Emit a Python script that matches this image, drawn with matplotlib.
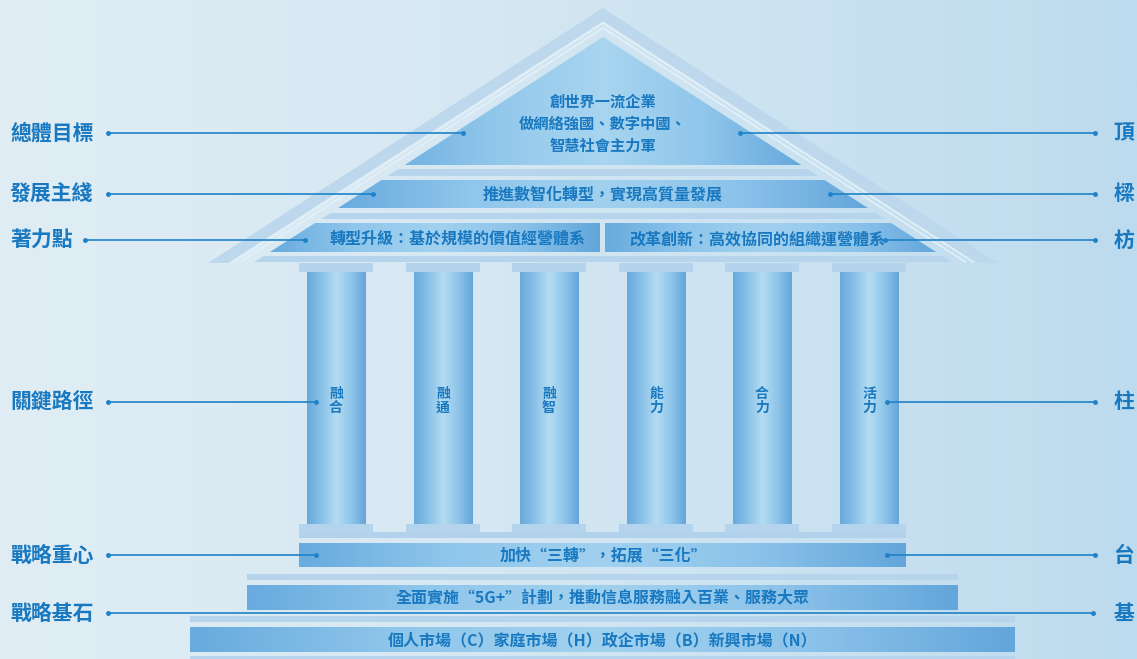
import numpy as np
import matplotlib.pyplot as plt
from matplotlib.colors import LinearSegmentedColormap
from matplotlib.patches import Polygon

plt.rcParams['font.family'] = ['Noto Sans CJK TC', 'DejaVu Sans']

# ---- content ----
left_labels = ['總體目標', '發展主綫', '著力點', '關鍵路徑', '戰略重心', '戰略基石']
right_labels = ['頂', '樑', '枋', '柱', '台', '基']
roof_text = '創世界一流企業\n做網絡強國、數字中國、\n智慧社會主力軍'
beam_text = '推進數智化轉型，實現高質量發展'
fang_texts = ['轉型升級：基於規模的價值經營體系', '改革創新：高效協同的組織運營體系']
pillar_labels = ['融合', '融通', '融智', '能力', '合力', '活力']
platform_text = '加快“三轉”，拓展“三化”'
base_texts = ['全面實施“5G+”計劃，推動信息服務融入百業、服務大眾',
              '個人市場（C）家庭市場（H）政企市場（B）新興市場（N）']

TXT = '#1878c0'
LINE = '#1f82c8'
STRIP = '#b6d4ec'

W, H = 1137, 659
fig = plt.figure(figsize=(W / 100, H / 100), dpi=100)
ax = fig.add_axes([0, 0, 1, 1])

band_cmap = LinearSegmentedColormap.from_list(
    'band', ['#68abde', '#8fc6eb', '#a2d1ef', '#8cc3ea', '#63a6db'])
col_cmap = LinearSegmentedColormap.from_list(
    'col', ['#68a9dc', '#8ac1e8', '#b4dcf2', '#8fc5e9', '#64a5da'])
roof_cmap = LinearSegmentedColormap.from_list(
    'roof', ['#74b3e2', '#94c9ec', '#a8d5f0', '#90c6eb', '#66a8dc'])
bg_cmap = LinearSegmentedColormap.from_list(
    'bg', ['#e0edf5', '#d8e9f3', '#cce3f1', '#bddbee'])


def grad(verts, cmap, z):
    poly = Polygon(verts, closed=True, facecolor='none', edgecolor='none')
    ax.add_patch(poly)
    xs = [v[0] for v in verts]
    ys = [v[1] for v in verts]
    g = np.linspace(0, 1, 256).reshape(1, -1)
    im = ax.imshow(g, cmap=cmap, extent=(min(xs), max(xs), max(ys), min(ys)),
                   aspect='auto', zorder=z, interpolation='bilinear')
    im.set_clip_path(poly)


def rect(x0, x1, y0, y1):
    return [(x0, y0), (x1, y0), (x1, y1), (x0, y1)]


def flat(verts, color, z):
    ax.add_patch(Polygon(verts, closed=True, facecolor=color, edgecolor='none', zorder=z))


# background
bg = np.linspace(0, 1, 512).reshape(1, -1)
ax.imshow(bg, cmap=bg_cmap, extent=(0, W, H, 0), aspect='auto', zorder=0)

# roof geometry
cx, apex, base_y = 603, 8, 263
slope = 255 / 395


def xl(y, off):
    return cx - (y - (apex + off)) / slope


def xr(y, off):
    return cx + (y - (apex + off)) / slope


# outer roof band
flat([(cx, apex), (xl(base_y, 0), base_y), (xl(base_y, 13), base_y), (cx, apex + 13)], '#bdd7ec', 1)
flat([(cx, apex), (xr(base_y, 0), base_y), (xr(base_y, 13), base_y), (cx, apex + 13)], '#bdd7ec', 1)
for off in (15, 20):
    ax.plot([xl(base_y - 1, off), cx, xr(base_y - 1, off)], [base_y - 1, apex + off, base_y - 1],
            color='#e4f1f9', lw=1.1, zorder=2)

OFF = 29
# pediment triangle
grad([(cx, apex + OFF), (xl(165, OFF), 165), (xr(165, OFF), 165)], roof_cmap, 3)


def trap(y0, y1):
    return [(xl(y0, OFF), y0), (xr(y0, OFF), y0), (xr(y1, OFF), y1), (xl(y1, OFF), y1)]


flat(trap(169, 176), STRIP, 3)
grad(trap(180, 208), band_cmap, 3)
flat(trap(213, 219), STRIP, 3)
grad([(xl(223, OFF), 223), (600, 223), (600, 252), (xl(252, OFF), 252)], band_cmap, 3)
grad([(605, 223), (xr(223, OFF), 223), (xr(252, OFF), 252), (605, 252)], band_cmap, 3)
flat(trap(256, 262), STRIP, 3)

# columns
col_x = [336, 443, 549, 656, 762, 869]
for x, lab in zip(col_x, pillar_labels):
    flat(rect(x - 37, x + 37, 263, 272), '#b4d3ec', 3)
    grad(rect(x - 29.5, x + 29.5, 272, 524), col_cmap, 3)
    flat(rect(x - 37, x + 37, 524, 532), '#b4d3ec', 3)
    ax.text(x, 401, '\n'.join(lab), ha='center', va='center', color=TXT,
            fontsize=10, fontweight='bold', linespacing=1.0, zorder=5)
flat(rect(299, 906, 532, 538), '#b2d1eb', 3)

# platform and base steps
grad(rect(299, 906, 543, 567), band_cmap, 3)
flat(rect(247, 958, 574, 580), STRIP, 3)
grad(rect(247, 958, 585, 610), band_cmap, 3)
flat(rect(190, 1015, 616, 622), STRIP, 3)
grad(rect(190, 1015, 627, 652), band_cmap, 3)
flat(rect(190, 1015, 656, 660), STRIP, 3)

# texts inside the building
kw = dict(ha='center', va='center', color=TXT, fontweight='bold', zorder=5)
ax.text(cx, 124, roof_text, fontsize=11, linespacing=1.45, **kw)
ax.text(cx, 194, beam_text, fontsize=11.5, **kw)
ax.text(458, 239, fang_texts[0], fontsize=11.5, **kw)
ax.text(757, 239, fang_texts[1], fontsize=11.5, **kw)
ax.text(cx, 555, platform_text, fontsize=11.5, **kw)
ax.text(cx, 598, base_texts[0], fontsize=11.5, **kw)
ax.text(cx, 640, base_texts[1], fontsize=11.5, **kw)

# side labels and leader lines
row_y = [133, 194, 240, 402, 555, 613]
left_start = [108, 108, 85, 108, 108, 108]
left_end = [463, 373, 305, 316, 316, 1093]
right_start = [740, 830, 885, 887, 887, None]
for i, y in enumerate(row_y):
    ax.text(10, y, left_labels[i], ha='left', va='center', color=TXT,
            fontsize=15, fontweight='bold', zorder=6)
    ax.text(1124, y, right_labels[i], ha='center', va='center', color=TXT,
            fontsize=15, fontweight='bold', zorder=6)
    ax.plot([left_start[i], left_end[i]], [y, y], color=LINE, lw=1.2, zorder=6,
            marker='o', ms=2.5)
    if right_start[i] is not None:
        ax.plot([right_start[i], 1095], [y, y], color=LINE, lw=1.2, zorder=6,
                marker='o', ms=2.5)

ax.set_xlim(0, W)
ax.set_ylim(H, 0)
ax.axis('off')
fig.savefig('out.png', dpi=100)
